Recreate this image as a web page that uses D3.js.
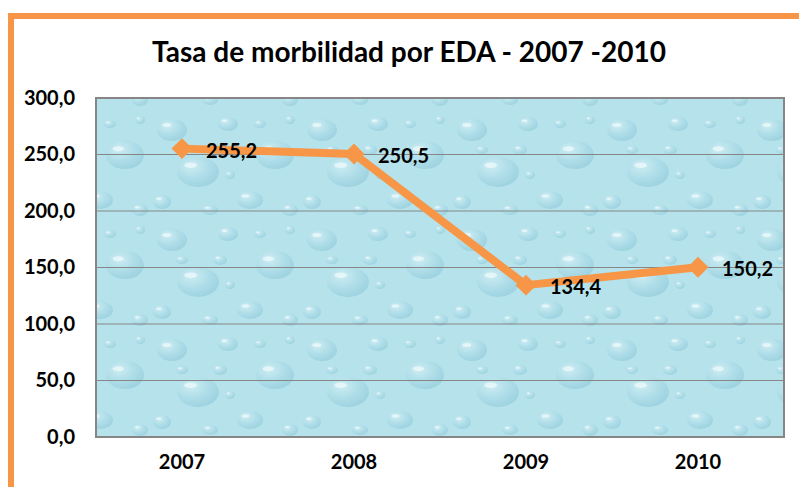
<!DOCTYPE html>
<html><head><meta charset="utf-8">
<script src="https://cdn.jsdelivr.net/npm/d3@7"></script>
<style>body{margin:0;background:#fff;}svg{display:block;}</style>
</head><body>
<svg id="c" width="799" height="487"></svg>
<script>
const categories = ["2007", "2008", "2009", "2010"];
const values = [255.2, 250.5, 134.4, 150.2];
const valueLabels = ["255,2", "250,5", "134,4", "150,2"];
const yTicks = [0, 50, 100, 150, 200, 250, 300];
const title = "Tasa de morbilidad por EDA - 2007 -2010";

const svg = d3.select("#c");
const font = "Lato, 'Open Sans', sans-serif";
const orange = "#F79646";
const m = {l: 96, t: 98, r: 784, b: 437};

// frame
svg.append("rect").attr("x", 11).attr("y", 16).attr("width", 900).attr("height", 600)
  .attr("fill", "none").attr("stroke", orange).attr("stroke-width", 6);

// texture pattern
const defs = svg.append("defs");
const rg = defs.append("radialGradient").attr("id", "drop").attr("cx", "35%").attr("cy", "30%").attr("r", "75%");
rg.append("stop").attr("offset", "0%").attr("stop-color", "#DDF3F8");
rg.append("stop").attr("offset", "55%").attr("stop-color", "#A9DAE6");
rg.append("stop").attr("offset", "100%").attr("stop-color", "#8DC7D8");
const pat = defs.append("pattern").attr("id", "water").attr("patternUnits", "userSpaceOnUse")
  .attr("width", 150).attr("height", 110);
pat.append("rect").attr("width", 150).attr("height", 110).attr("fill", "#B5E2EB");
const drops = [[22,20,15,11],[78,14,10,7],[125,45,19,14],[48,62,21,15],[12,92,9,7],[100,90,13,9],[70,40,7,5],[140,100,8,6],[32,40,6,4],[110,14,6,4],[80,65,5,4],[60,100,8,5],[140,10,5,4]];
drops.forEach(d => {
  pat.append("ellipse").attr("cx", d[0]).attr("cy", d[1]).attr("rx", d[2]).attr("ry", d[3])
    .attr("fill", "url(#drop)").attr("opacity", 0.6);
  pat.append("ellipse").attr("cx", d[0] - d[2]*0.35).attr("cy", d[1] - d[3]*0.45).attr("rx", d[2]*0.3).attr("ry", d[3]*0.18)
    .attr("fill", "#F2FBFD").attr("opacity", 0.7);
});

const x = d3.scaleBand().domain(categories).range([m.l, m.r]);
const y = d3.scaleLinear().domain([0, 300]).range([m.b, m.t]);

svg.append("rect").attr("x", m.l).attr("y", m.t).attr("width", m.r - m.l).attr("height", m.b - m.t)
  .attr("fill", "url(#water)");

// gridlines
svg.append("g").selectAll("line").data(yTicks.slice(1, -1)).join("line")
  .attr("x1", m.l).attr("x2", m.r).attr("y1", d => y(d)).attr("y2", d => y(d))
  .attr("stroke", "#868686").attr("stroke-width", 1);

svg.append("rect").attr("x", m.l).attr("y", m.t).attr("width", m.r - m.l).attr("height", m.b - m.t)
  .attr("fill", "none").attr("stroke", "#868686").attr("stroke-width", 2);

// axes
const yAxis = d3.axisLeft(y).tickValues(yTicks).tickSize(0).tickPadding(21)
  .tickFormat(d => d3.format(".1f")(d).replace(".", ","));
const gy = svg.append("g").attr("transform", `translate(${m.l},0)`).call(yAxis);
gy.select(".domain").remove();
gy.selectAll("text").attr("font-family", font).attr("font-weight", "bold").attr("font-size", 20).attr("fill", "#000");

const xAxis = d3.axisBottom(x).tickSize(0).tickPadding(18);
const gx = svg.append("g").attr("transform", `translate(0,${m.b})`).call(xAxis);
gx.select(".domain").remove();
gx.selectAll("text").attr("font-family", font).attr("font-weight", "bold").attr("font-size", 20).attr("fill", "#000");

// title
svg.append("text").attr("x", 409).attr("y", 62).attr("text-anchor", "middle")
  .attr("font-family", font).attr("font-weight", "bold").attr("font-size", 28).text(title);

// line
const pts = categories.map((c, i) => [x(c) + x.bandwidth()/2, y(values[i])]);
svg.append("path").attr("d", d3.line()(pts)).attr("fill", "none")
  .attr("stroke", orange).attr("stroke-width", 8).attr("stroke-linejoin", "round");
svg.append("g").selectAll("path").data(pts).join("path")
  .attr("d", d3.symbol(d3.symbolDiamond2, 280)())
  .attr("transform", d => `translate(${d[0]},${d[1]})`)
  .attr("fill", orange);
svg.append("g").selectAll("text").data(pts).join("text")
  .attr("x", d => d[0] + 24).attr("y", d => d[1] + 9)
  .attr("font-family", font).attr("font-weight", "bold").attr("font-size", 20).attr("fill", "#000")
  .text((d, i) => valueLabels[i]);
</script>
</body></html>
